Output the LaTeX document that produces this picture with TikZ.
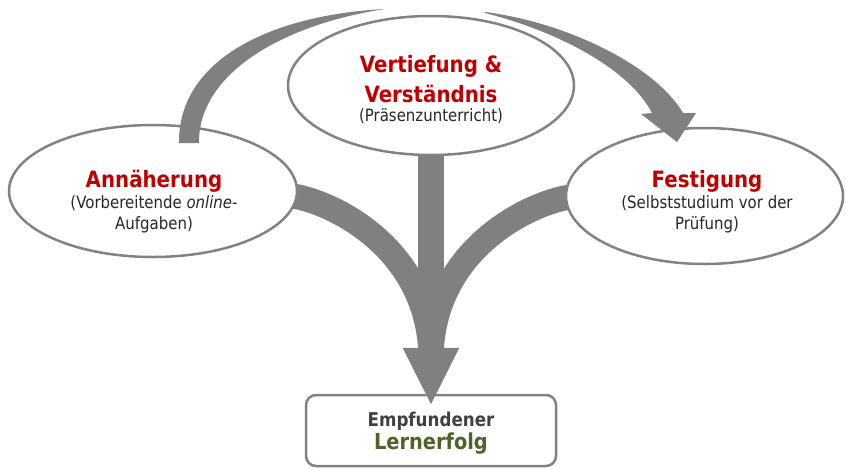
\documentclass[tikz,border=0pt]{standalone}
\usepackage{fontspec}
\setmainfont{DejaVu Sans}[FakeStretch=0.88]
\usetikzlibrary{shapes.geometric,arrows.meta}
\definecolor{arrowgray}{RGB}{128,128,128}
\definecolor{linegray}{RGB}{130,130,130}
\definecolor{titlered}{RGB}{192,0,0}
\definecolor{lerngreen}{RGB}{79,98,40}
\newcommand{\phasetitle}[1]{{\fontsize{22.5}{27}\selectfont\bfseries\color{titlered}#1}}
\pgfdeclarelayer{background}
\pgfsetlayers{background,main}
\begin{document}
\begin{tikzpicture}[x=1pt,y=-1pt,line join=round,
	phase/.style={ellipse,draw=linegray,line width=2.5pt,fill=white,inner sep=0pt},
	phasetext/.style={align=center,inner sep=0pt,text=black!85,font=\fontsize{17}{21}\selectfont},
	band/.style={draw=arrowgray,line width=25pt},
	shaft/.style={draw=arrowgray,line width=26pt,-{Triangle[width=52pt,length=58pt]},shorten >=-12pt},
	goalbox/.style={draw=linegray,line width=2.5pt,fill=white,rounded corners=10pt,minimum width=250pt,minimum height=71pt,align=center,inner sep=0pt,font=\fontsize{19}{23}\selectfont\bfseries}]
	\useasboundingbox (0,0) rectangle (846,469);
	\node[phase,minimum width=288pt,minimum height=132pt] (lEll) at (153,191) {};
	\node[phase,minimum width=286pt,minimum height=139pt] (cEll) at (431,85.5) {};
	\node[phase,minimum width=277pt,minimum height=136pt] (rEll) at (704.5,196) {};
	\node[phasetext] (lTxt) at (154,202) {\phasetitle{Annäherung}\\(Vorbereitende \textit{online}-\\Aufgaben)};
	\node[phasetext] (cTxt) at (431,89.5) {\phasetitle{Vertiefung \&}\\[6pt]\phasetitle{Verständnis}\\[-2pt](Präsenzunterricht)};
	\node[phasetext] (rTxt) at (707,201.5) {\phasetitle{Festigung}\\(Selbststudium vor der\\Prüfung)};
	\begin{pgfonlayer}{background}
	\node[goalbox] (goal) at (431,430.5) {\rule{0pt}{20pt}{\color{darkgray}Empfundener}\\{\fontsize{22}{23}\selectfont\color{lerngreen}Lernerfolg}};
	\coordinate (merge) at (431,360);
	\draw[band] ([xshift=-12pt,yshift=-4.5pt]lEll.east) .. controls +(30,0) and +(0,-120) .. (merge);
	\draw[band] ([xshift=12pt,yshift=-0.5pt]rEll.west) .. controls +(-30,0) and +(0,-120) .. (merge);
	\draw[shaft] (cEll.center) -- (goal.north);
	\end{pgfonlayer}
	\fill[arrowgray] (179,143) .. controls (178,60) and (270,15) .. (385,9) .. controls (280,25) and (198,75) .. (199,143) -- cycle;
	\fill[arrowgray] (485,12) .. controls (565,22) and (655,65) .. (683,113) -- (696,113) -- (677,142) -- (641,114) -- (652,113) .. controls (630,70) and (560,32) .. (485,13) -- cycle;
\end{tikzpicture}
\end{document}
